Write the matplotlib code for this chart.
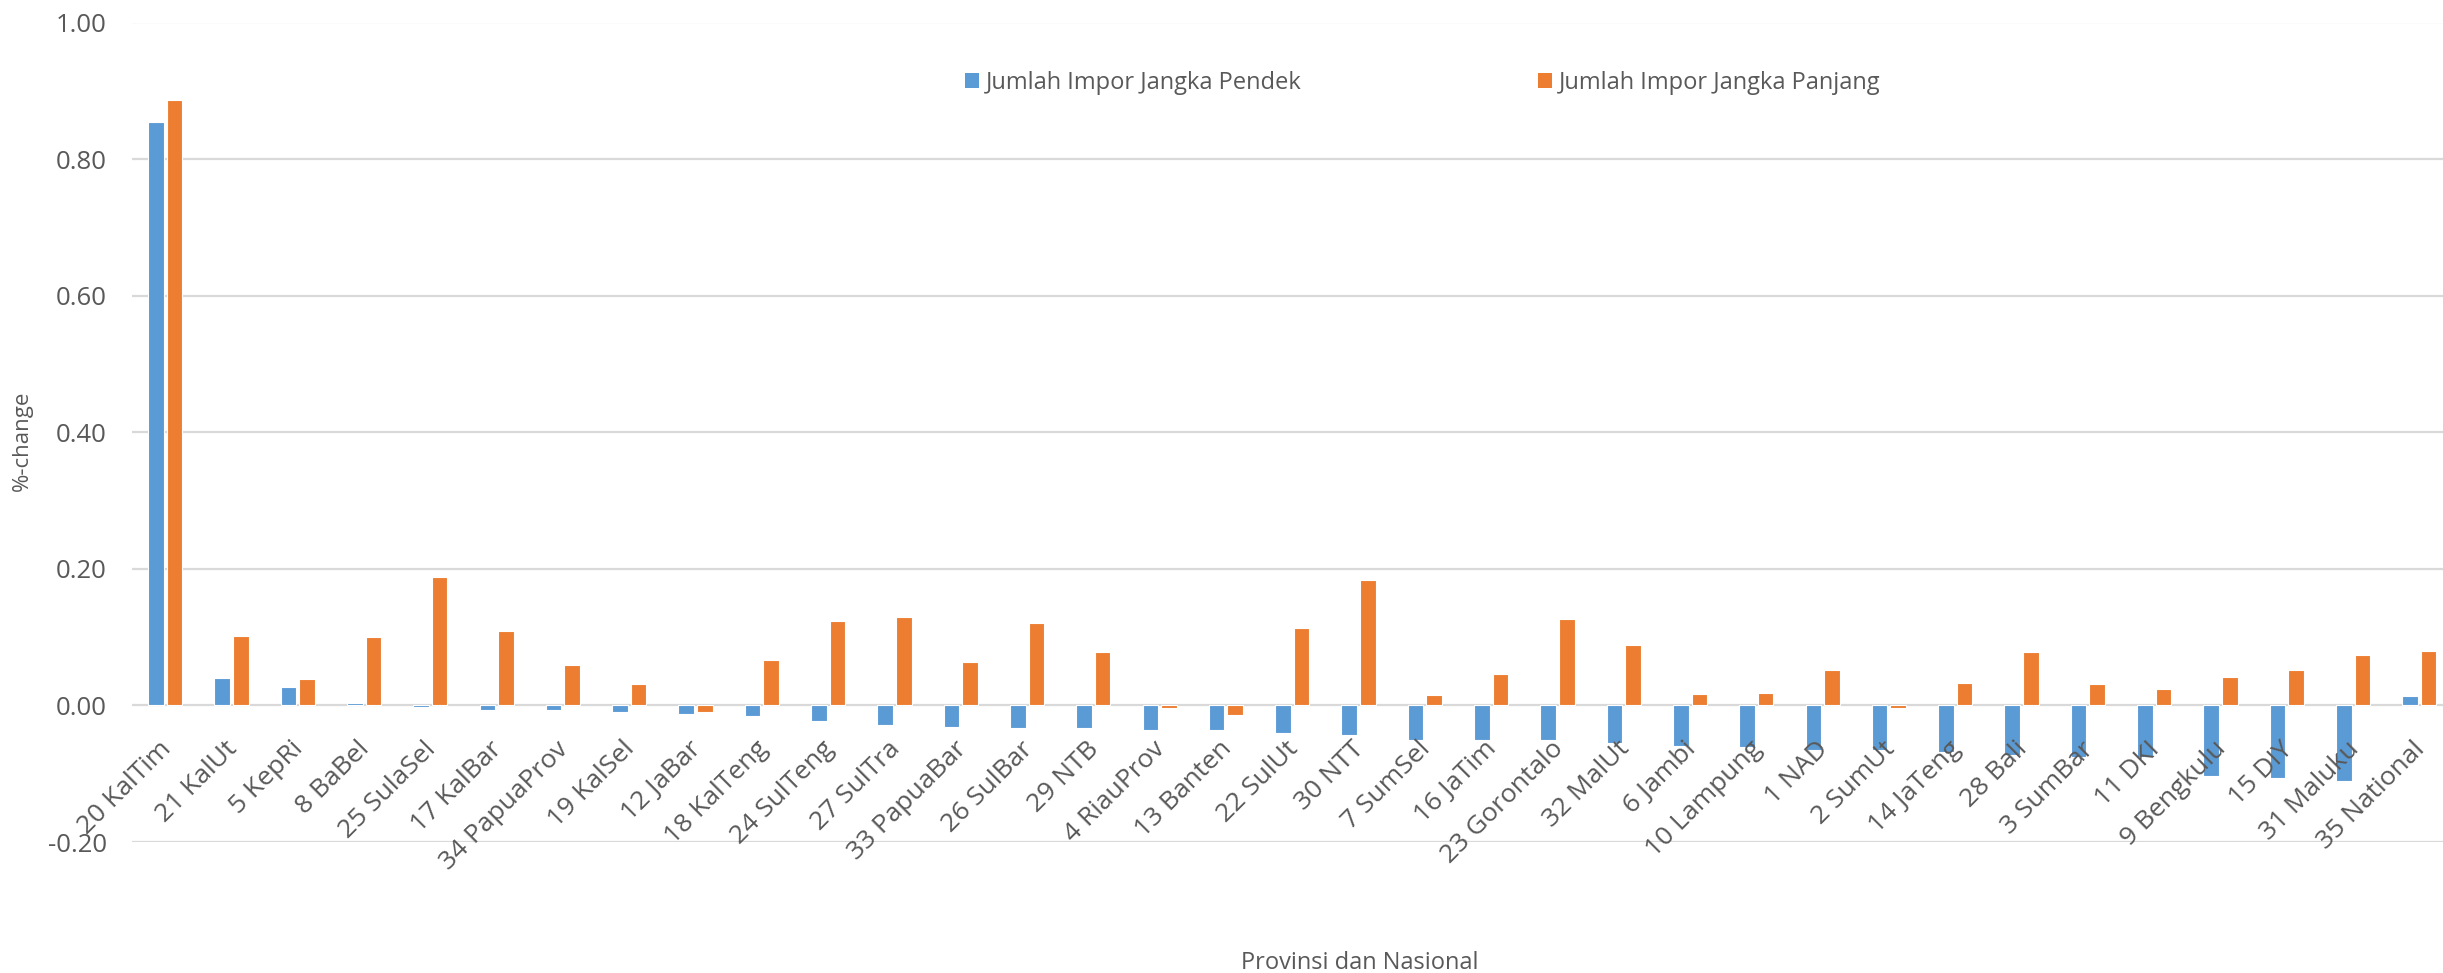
import matplotlib
matplotlib.use("Agg")
import matplotlib.pyplot as plt
import matplotlib.transforms as mtransforms
from matplotlib.patches import Patch
import numpy as np

# data
provinces = ['20 KalTim', '21 KalUt', '5 KepRi', '8 BaBel', '25 SulaSel', '17 KalBar',
             '34 PapuaProv', '19 KalSel', '12 JaBar', '18 KalTeng', '24 SulTeng', '27 SulTra',
             '33 PapuaBar', '26 SulBar', '29 NTB', '4 RiauProv', '13 Banten', '22 SulUt',
             '30 NTT', '7 SumSel', '16 JaTim', '23 Gorontalo', '32 MalUt', '6 Jambi',
             '10 Lampung', '1 NAD', '2 SumUt', '14 JaTeng', '28 Bali', '3 SumBar',
             '11 DKI', '9 Bengkulu', '15 DIY', '31 Maluku', '35 National']
pendek = [0.855, 0.040, 0.027, 0.004, -0.003, -0.007, -0.007, -0.010, -0.012, -0.016,
          -0.023, -0.029, -0.031, -0.033, -0.033, -0.036, -0.036, -0.040, -0.044, -0.050,
          -0.051, -0.051, -0.055, -0.060, -0.061, -0.065, -0.065, -0.068, -0.072, -0.076,
          -0.076, -0.104, -0.106, -0.111, 0.014]
panjang = [0.886, 0.102, 0.038, 0.100, 0.188, 0.109, 0.059, 0.032, -0.010, 0.066,
           0.123, 0.129, 0.063, 0.121, 0.078, -0.004, -0.014, 0.114, 0.183, 0.015,
           0.046, 0.127, 0.089, 0.016, 0.018, 0.052, -0.004, 0.033, 0.078, 0.031,
           0.024, 0.041, 0.052, 0.074, 0.080]
y_ticks = [-0.20, 0.00, 0.20, 0.40, 0.60, 0.80, 1.00]

blue = '#5B9BD5'
orange = '#ED7D31'
grey = '#595959'

plt.rcParams['font.family'] = ['Open Sans', 'DejaVu Sans']

W, H = 2443, 973
fig = plt.figure(figsize=(W / 100, H / 100), dpi=100)
left = 132 / W
width = 35 * 66.3 / W
bottom = 1 - 842 / H
top = 1 - 22.5 / H
ax = fig.add_axes([left, bottom, width, top - bottom])

x = np.arange(len(provinces))
bw = 0.235
ax.bar(x - 0.14, pendek, bw, color=blue, edgecolor='white', linewidth=0.8, zorder=3)
ax.bar(x + 0.14, panjang, bw, color=orange, edgecolor='white', linewidth=0.8, zorder=3)

ax.set_xlim(-0.5, len(provinces) - 0.5)
ax.set_ylim(-0.2, 1.0)
ax.set_yticks(y_ticks)
ax.set_yticklabels(['%.2f' % v for v in y_ticks])
ax.yaxis.grid(True, color='#D9D9D9', linewidth=1.6, zorder=0)
ax.set_axisbelow(True)
for s in ax.spines.values():
    s.set_visible(False)
ax.tick_params(axis='y', length=0, pad=18, labelsize=18.5, labelcolor=grey)
ax.set_xticks([])

# category labels hang just below the zero line
off = mtransforms.offset_copy(ax.transData, fig=fig, x=2, y=-40, units='dots')
for i, name in enumerate(provinces):
    ax.text(i, 0, name, transform=off, rotation=45, rotation_mode='anchor',
            ha='right', va='center', fontsize=19, color=grey, zorder=4)

ax.set_ylabel('%-change', fontsize=16, color=grey)
ax.yaxis.set_label_coords(-0.0427, 0.49)

fig.text(1360 / W, 4 / H, 'Provinsi dan Nasional', ha='center', va='baseline',
         fontsize=17, color=grey)

handles = [Patch(facecolor=blue, edgecolor='none', label='Jumlah Impor Jangka Pendek'),
           Patch(facecolor=orange, edgecolor='none', label='Jumlah Impor Jangka Panjang')]
leg = fig.legend(handles=handles, loc='center left', bbox_to_anchor=(965 / W, 1 - 83 / H),
                 bbox_transform=fig.transFigure, ncol=2, frameon=False, fontsize=17,
                 handlelength=0.6, handleheight=0.6, handletextpad=0.3,
                 columnspacing=10.0, borderpad=0, borderaxespad=0)
for t in leg.get_texts():
    t.set_color(grey)

fig.savefig('out.png', dpi=100)
